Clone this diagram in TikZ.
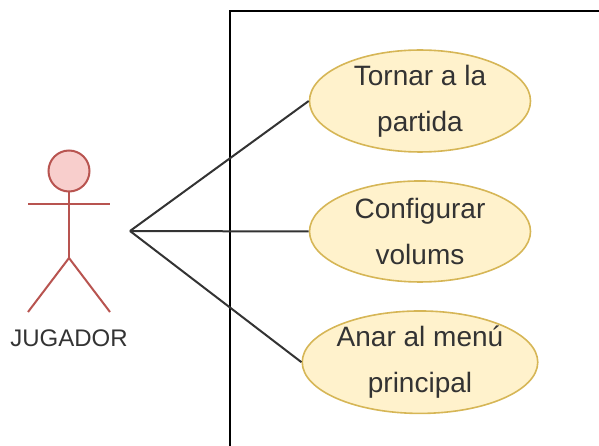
\documentclass[tikz,border=0pt]{standalone}
\usepackage{fontspec}
\setmainfont{Liberation Sans}
\usetikzlibrary{positioning,shapes}
\definecolor{casefill}{HTML}{FFF2CC}
\definecolor{casedraw}{HTML}{D6B656}
\definecolor{actorfill}{HTML}{F8CECC}
\definecolor{actordraw}{HTML}{B85450}
\tikzset{
  usecase/.style={ellipse, draw=casedraw, fill=casefill, line width=1.6pt, minimum width=221pt, minimum height=101pt, inner sep=0pt, align=center, font=\fontsize{28}{46}\selectfont, text=black!80},
  limb/.style={draw=actordraw, line width=2pt},
  link/.style={draw=black!80, line width=2pt},
  frameline/.style={draw=black, line width=2pt}
}
\begin{document}
\begin{tikzpicture}[x=1pt,y=-1pt]
\useasboundingbox (0,0) rectangle (599,446);
\draw[frameline] (229.5,446) -- (229.5,11) -- (599,11);

\node [usecase] (tornar) at (420,101) {Tornar a la\\partida};
\node [usecase, below=27.4pt of tornar] (volums) {Configurar\\volums};
\node [usecase, below=27.4pt of volums] (menu) {Anar al menú\\principal};

\node [circle, draw=actordraw, fill=actorfill, line width=2pt, minimum size=41pt, inner sep=0pt] (head) at (69,171) {};
\coordinate (neck) at (69,204.5);
\coordinate (hip) at (69,258);
\coordinate (handl) at (28,204.5);
\coordinate (handr) at (110,204.5);
\coordinate (footl) at (28,312);
\coordinate (footr) at (110,312);
\draw[limb] (head) -- (hip);
\draw[limb] (handl) -- (handr);
\draw[limb] (footl) -- (hip) -- (footr);
\node [font=\fontsize{24}{28}\selectfont, text=black!80] (jugador) at (69,338) {JUGADOR};

\coordinate (hub) at (130,231);
\draw[link] (hub) -- (tornar.west);
\draw[link] (hub) -- (volums.west);
\draw[link] (hub) -- (menu.west);
\end{tikzpicture}
\end{document}
